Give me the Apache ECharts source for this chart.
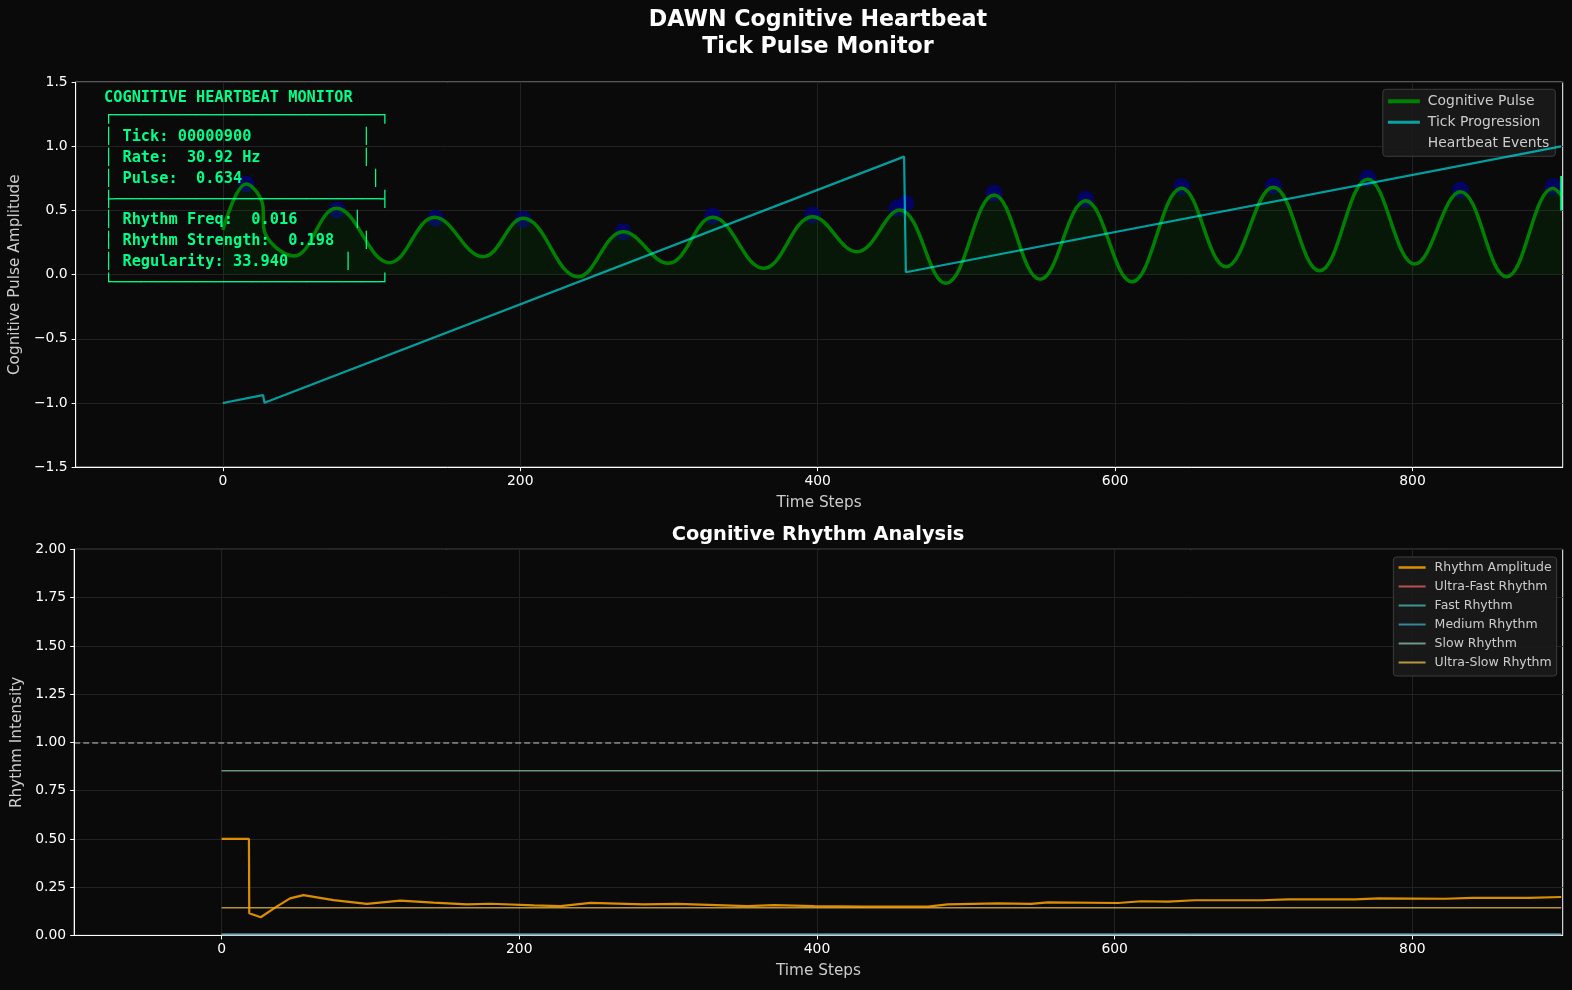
<!DOCTYPE html>
<html>
<head>
<meta charset="utf-8">
<title>DAWN Cognitive Heartbeat</title>
<script src="https://cdn.jsdelivr.net/npm/echarts@6/dist/echarts.min.js"></script>
<style>
  html, body { margin: 0; padding: 0; background: #0a0a0a; }
  #chart { width: 1572px; height: 990px; }
</style>
</head>
<body>
<div id="chart"></div>
<script>
// ---- upper panel: pulse trace (peaks / troughs)
var pulseX = [0, 15.7, 27, 27.5, 48, 76.3, 112.2, 142.4, 175, 201.9, 238.9, 269.2, 299.5, 329.4, 363.7,
  396.6, 426.4, 455.1, 486.1, 518.6, 549.6, 580.2, 611.2, 644.8, 674.6, 706.4, 737.4, 769.9, 801.6,
  832.2, 863.2, 894.5, 900];
var pulseY = [0.348, 0.707, 0.53, 0.364, 0.146, 0.517, 0.094, 0.447, 0.14, 0.44, -0.016, 0.335, 0.089, 0.447, 0.05,
  0.452, 0.179, 0.504, -0.067, 0.621, -0.036, 0.577, -0.055, 0.673, 0.062, 0.681, 0.031, 0.744, 0.083,
  0.647, -0.016, 0.673, 0.62];

// heartbeat events (marker at each beat)
var beatX = [15.7, 76.8, 143.1, 201.9, 269.2, 329.4, 396.6, 453.3, 459.3, 518.6, 580.2, 644.8, 706.4, 769.9, 832.2, 894.5];
var beatY = [0.707, 0.504, 0.44, 0.432, 0.335, 0.457, 0.465, 0.517, 0.556, 0.634, 0.588, 0.686, 0.691, 0.751, 0.66, 0.686];

// tick progression (normalised tick counter)
var tickX = [0, 27, 28, 458.1, 459.3, 900];
var tickY = [-1.0, -0.938, -0.998, 0.92, 0.019, 1.0];

// current tick marker
var currentTick = 900;
var cursorSpan = [0.5, 0.77];

// ---- lower panel: rhythm analysis
var ampX = [0, 18.4, 18.6, 26.3, 37, 46, 55, 75.2, 97.6, 120, 142.4, 164.9, 180.6, 209.7, 227.7, 247.9,
  283.7, 306.2, 353.3, 371.2, 398.1, 431.8, 474.4, 487.9, 521.5, 543.9, 555.2, 602.3, 617.9, 635.9,
  653.8, 698.7, 716.6, 761.5, 777.2, 822, 840, 878.1, 900];
var ampY = [0.5, 0.5, 0.115, 0.094, 0.149, 0.192, 0.209, 0.183, 0.163, 0.18, 0.17, 0.161, 0.164, 0.156, 0.152, 0.169,
  0.161, 0.163, 0.152, 0.157, 0.152, 0.149, 0.149, 0.161, 0.166, 0.163, 0.171, 0.168, 0.177, 0.175,
  0.182, 0.182, 0.187, 0.187, 0.192, 0.19, 0.194, 0.194, 0.199];

var rhythmNames = ['Ultra-Fast Rhythm', 'Fast Rhythm', 'Medium Rhythm', 'Slow Rhythm', 'Ultra-Slow Rhythm'];
var rhythmLevels = [0.004, 0.005, 0.006, 0.853, 0.1435];
var rhythmColors = ['rgba(255,107,107,0.7)', 'rgba(78,205,196,0.7)', 'rgba(69,183,209,0.7)',
  'rgba(150,206,180,0.7)', 'rgba(254,202,87,0.7)'];
var rhythmSpan = [0, 900];
var baseline = 1.0;

var xTicks = [0, 200, 400, 600, 800];

// status box text
var tickNo = '00000900', rate = '30.92', pulse = '0.634';
var rhythmFreq = '0.016', rhythmStrength = '0.198', regularity = '33.940';

function pairs(xs, ys) {
  return xs.map(function (x, i) { return [x, ys[i]]; });
}
function row(s, col) { return s.padEnd(col) + '\u2502'; }
var bar = '\u2500'.repeat(29);
var boxLines = [
  '\u250c' + bar + '\u2510',
  row('\u2502 Tick: ' + tickNo, 28),
  row('\u2502 Rate:  ' + rate + ' Hz', 28),
  row('\u2502 Pulse:  ' + pulse, 29),
  '\u251c' + bar + '\u2524',
  row('\u2502 Rhythm Freq:  ' + rhythmFreq, 27),
  row('\u2502 Rhythm Strength:  ' + rhythmStrength, 28),
  row('\u2502 Regularity: ' + regularity, 26),
  '\u2514' + bar + '\u2518'
];

var FONT = '"DejaVu Sans", sans-serif';
var MONO = '"DejaVu Sans Mono", monospace';

function xAxisCfg(idx) {
  return {
    gridIndex: idx, type: 'value', min: -99, max: 901,
    minInterval: 200, maxInterval: 200,
    name: 'Time Steps', nameLocation: 'middle', nameGap: 28,
    nameTextStyle: { color: '#cccccc', fontSize: 15.3, fontFamily: FONT },
    axisLine: { show: true, onZero: false, lineStyle: { color: '#ffffff' } },
    axisTick: { show: true, length: 4, customValues: xTicks, lineStyle: { color: '#ffffff' } },
    axisLabel: { color: '#ffffff', fontSize: 13.9, fontFamily: FONT, margin: 7, customValues: xTicks },
    splitLine: { show: true, lineStyle: { color: '#222222' } }
  };
}
function yAxisCfg(idx, min, max, step, name, gap, digits) {
  return {
    gridIndex: idx, type: 'value', min: min, max: max, interval: step,
    name: name, nameLocation: 'middle', nameGap: gap,
    nameTextStyle: { color: '#cccccc', fontSize: 15.3, fontFamily: FONT },
    axisLine: { show: true, onZero: false, lineStyle: { color: '#ffffff' } },
    axisTick: { show: true, length: 4, lineStyle: { color: '#ffffff' } },
    axisLabel: { color: '#ffffff', fontSize: 13.9, fontFamily: FONT, margin: 8,
      formatter: function (v) { return v.toFixed(digits).replace('-', '\u2212'); } },
    splitLine: { show: true, lineStyle: { color: '#222222' } }
  };
}

var chart = echarts.init(document.getElementById('chart'), null, { renderer: 'canvas' });

var series = [
  {
    name: 'Cognitive Pulse', type: 'line', xAxisIndex: 0, yAxisIndex: 0,
    data: pairs(pulseX, pulseY), smooth: 0.4, symbol: 'none', z: 3,
    lineStyle: { color: '#008000', width: 3.5 }, itemStyle: { color: '#008000' },
    areaStyle: { color: 'rgba(0,128,0,0.18)' }
  },
  {
    name: 'Tick Progression', type: 'line', xAxisIndex: 0, yAxisIndex: 0,
    data: pairs(tickX, tickY), symbol: 'none', z: 4,
    lineStyle: { color: 'rgba(0,255,255,0.6)', width: 2.2 }, itemStyle: { color: 'rgba(0,255,255,0.6)' }
  },
  {
    name: 'Heartbeat Events', type: 'scatter', xAxisIndex: 0, yAxisIndex: 0,
    data: pairs(beatX, beatY), symbolSize: 17, z: 2,
    itemStyle: { color: 'rgba(0,0,139,0.85)' }
  },
  {
    name: 'current', type: 'line', xAxisIndex: 0, yAxisIndex: 0, silent: true,
    data: [[currentTick, cursorSpan[0]], [currentTick, cursorSpan[1]]], symbol: 'none', z: 6,
    lineStyle: { color: '#00ff88', width: 2 }
  },
  {
    name: 'Rhythm Amplitude', type: 'line', xAxisIndex: 1, yAxisIndex: 1,
    data: pairs(ampX, ampY), symbol: 'none', z: 5,
    lineStyle: { color: 'rgba(255,165,0,0.85)', width: 2.2 }, itemStyle: { color: 'rgba(255,165,0,0.85)' },
    markLine: {
      silent: true, symbol: 'none', label: { show: false },
      lineStyle: { color: 'rgba(255,255,255,0.5)', type: [6, 3], width: 1.5 },
      data: [{ yAxis: baseline }]
    }
  }
];
rhythmNames.forEach(function (n, i) {
  series.push({
    name: n, type: 'line', xAxisIndex: 1, yAxisIndex: 1,
    data: [[rhythmSpan[0], rhythmLevels[i]], [rhythmSpan[1], rhythmLevels[i]]],
    symbol: 'none', z: 4,
    lineStyle: { color: rhythmColors[i], width: 1.6 }, itemStyle: { color: rhythmColors[i] }
  });
});

var lowerLegend = [{ name: 'Rhythm Amplitude', lineStyle: { width: 2.5 } }].concat(
  rhythmNames.map(function (n) { return { name: n, lineStyle: { width: 2 } }; }));

var option = {
  backgroundColor: '#0a0a0a',
  animation: false,
  grid: [
    { left: 74.2, top: 82.2, width: 1488.5, height: 385, show: true,
      borderColor: '#ffffff', borderWidth: 1, backgroundColor: '#0a0a0a' },
    { left: 74.2, top: 549.4, width: 1488.5, height: 386, show: true,
      borderColor: '#ffffff', borderWidth: 1, backgroundColor: '#0a0a0a' }
  ],
  xAxis: [xAxisCfg(0), xAxisCfg(1)],
  yAxis: [
    yAxisCfg(0, -1.5, 1.5, 0.5, 'Cognitive Pulse Amplitude', 50, 1),
    yAxisCfg(1, 0, 2, 0.25, 'Rhythm Intensity', 48, 2)
  ],
  legend: [
    {
      data: [
        { name: 'Cognitive Pulse', lineStyle: { width: 4 } },
        { name: 'Tick Progression', lineStyle: { width: 3 } },
        { name: 'Heartbeat Events', itemStyle: { opacity: 0 } }
      ],
      orient: 'vertical', right: 16.7, top: 89.3,
      itemWidth: 32, itemHeight: 14, itemGap: 7, padding: [5, 6, 6, 3],
      itemStyle: { opacity: 0 },
      backgroundColor: 'rgba(26,26,26,0.92)', borderColor: '#3c3c3c', borderWidth: 1, borderRadius: 3,
      textStyle: { color: '#cccccc', fontSize: 13.9, fontFamily: FONT, padding: [0, 0, 0, 3] }
    },
    {
      data: lowerLegend,
      orient: 'vertical', right: 15.3, top: 557,
      itemWidth: 27, itemHeight: 12, itemGap: 6, padding: [4, 5, 7, 4],
      itemStyle: { opacity: 0 },
      backgroundColor: 'rgba(26,26,26,0.92)', borderColor: '#3c3c3c', borderWidth: 1, borderRadius: 3,
      textStyle: { color: '#cccccc', fontSize: 12.5, fontFamily: FONT, padding: [0, 0, 0, 4] }
    }
  ],
  graphic: [
    { type: 'text', x: 818, y: 20.5, z: 100,
      style: { text: 'DAWN Cognitive Heartbeat', align: 'center', verticalAlign: 'middle',
        fill: '#ffffff', fontSize: 22.2, fontWeight: 'bold', fontFamily: FONT } },
    { type: 'text', x: 818, y: 47.5, z: 100,
      style: { text: 'Tick Pulse Monitor', align: 'center', verticalAlign: 'middle',
        fill: '#ffffff', fontSize: 22.2, fontWeight: 'bold', fontFamily: FONT } },
    { type: 'text', x: 818, y: 535, z: 100,
      style: { text: 'Cognitive Rhythm Analysis', align: 'center', verticalAlign: 'middle',
        fill: '#ffffff', fontSize: 19.4, fontWeight: 'bold', fontFamily: FONT } },
    { type: 'text', x: 104, y: 98.5, z: 100,
      style: { text: 'COGNITIVE HEARTBEAT MONITOR', verticalAlign: 'middle', fill: '#00ff88',
        fontFamily: MONO, fontWeight: 'bold', fontSize: 15.3 } },
    { type: 'text', x: 104, y: 105.5, z: 100,
      style: { text: boxLines.join('\n'), fill: '#00ff88',
        fontFamily: MONO, fontWeight: 'bold', fontSize: 15.3, lineHeight: 20.9 } }
  ],
  series: series
};

chart.setOption(option);
</script>
</body>
</html>
